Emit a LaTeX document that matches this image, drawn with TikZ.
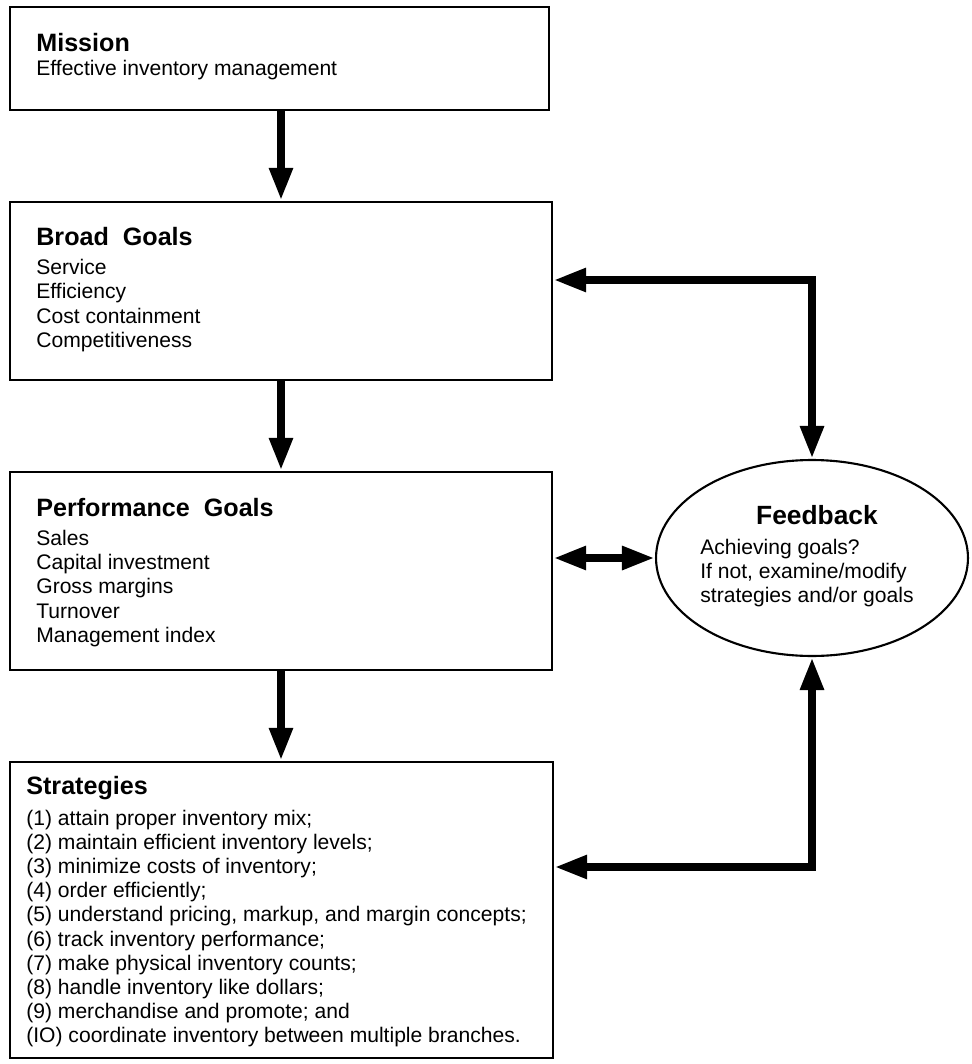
\documentclass[tikz,border=0pt]{standalone}
\usepackage{fontspec}
\setmainfont{Liberation Sans}
\usetikzlibrary{arrows.meta, shapes.geometric}

\begin{document}
\begin{tikzpicture}[x=0.02cm, y=-0.02cm,
  box/.style={draw, line width=1.4pt, inner sep=0pt},
  heading/.style={anchor=base west, inner sep=0pt, font=\fontsize{14.3}{17}\selectfont\bfseries},
  entry/.style={anchor=base west, inner sep=0pt, font=\fontsize{12}{14}\selectfont},
  forward/.style={line width=5pt, -{Triangle[length=0.66cm, width=0.44cm]}},
  twoway/.style={line width=5pt, {Triangle[length=0.66cm, width=0.44cm]}-{Triangle[length=0.66cm, width=0.44cm]}}]
  \useasboundingbox (0,0) rectangle (971,1064);

  % Boxes
  \node[box, minimum width=10.78cm, minimum height=2.06cm] (mission) at (279.5,58.5) {};
  \node[box, minimum width=10.84cm, minimum height=3.56cm] (broad) at (281,291) {};
  \node[box, minimum width=10.84cm, minimum height=3.96cm] (perf) at (281,571) {};
  \node[box, minimum width=10.86cm, minimum height=5.92cm] (strat) at (281.5,910) {};

  % Feedback ellipse
  \node[box, ellipse, line width=1.2pt, minimum width=6.24cm, minimum height=3.92cm] (feedback) at (812,558) {};

  % Mission
  \node[heading] (missiontitle) at (36,52) {Mission};
  \node[entry] (missiontext) at (36,76) {Effective inventory management};

  % Broad goals
  \node[heading] (broadtitle) at (36,245) {Broad~~Goals};
  \foreach \t [count=\i] in {Service, Efficiency, Cost containment, Competitiveness}
    \node[entry] (broad\i) at (36,{274+24.5*(\i-1)}) {\t};

  % Performance goals
  \node[heading] (perftitle) at (36,516) {Performance~~Goals};
  \foreach \t [count=\i] in {Sales, Capital investment, Gross margins, Turnover, Management index}
    \node[entry] (perf\i) at (36,{545+24.4*(\i-1)}) {\t};

  % Strategies
  \node[heading] (strattitle) at (26,794) {Strategies};
  \foreach \t [count=\i] in {(1) attain proper inventory mix;,
      (2) maintain efficient inventory levels;,
      (3) minimize costs of inventory;,
      (4) order efficiently;,
      {(5) understand pricing, markup, and margin concepts;},
      (6) track inventory performance;,
      (7) make physical inventory counts;,
      (8) handle inventory like dollars;,
      (9) merchandise and promote; and,
      (IO) coordinate inventory between multiple branches.}
    \node[entry] (strat\i) at (26,{825+24.2*(\i-1)}) {\t};

  % Feedback text
  \node[heading, anchor=base, font=\fontsize{15}{18}\selectfont\bfseries] (fbtitle) at (817,524) {Feedback};
  \foreach \t [count=\i] in {Achieving goals?, {If not, examine/modify}, strategies and/or goals}
    \node[entry] (fb\i) at (700,{554+24*(\i-1)}) {\t};

  % Arrows down the chain
  \draw[forward] (mission.south -| broad.north) -- (broad.north);
  \draw[forward] (broad.south) -- (perf.north);
  \draw[forward] (perf.south) -- (strat.north -| perf.south);

  % Feedback loops
  \coordinate (topbend) at (812,280);
  \coordinate (lowbend) at (812,867);
  \draw[twoway] (topbend -| broad.east) -- (topbend) -- (feedback.north);
  \draw[twoway] (feedback.west -| perf.east) -- (feedback.west);
  \draw[twoway] (lowbend -| strat.east) -- (lowbend) -- (feedback.south);
\end{tikzpicture}
\end{document}
